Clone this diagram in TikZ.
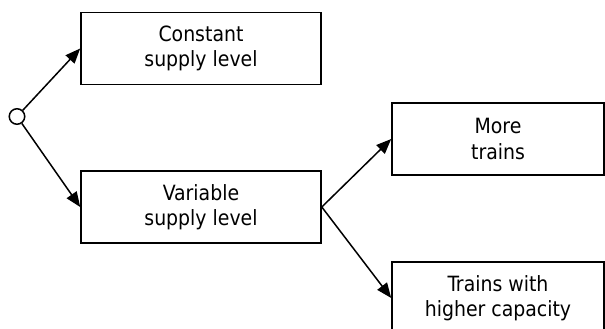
\documentclass[tikz,border=0pt]{standalone}
\usepackage{fontspec}
\setmainfont{DejaVu Sans Condensed}
\usetikzlibrary{arrows.meta}
\begin{document}
\begin{tikzpicture}[x=1pt,y=-1pt,
  box/.style={draw,line width=1.6pt,rectangle,minimum width=240pt,minimum height=72pt,inner sep=0pt,align=center,font=\fontsize{21pt}{25.5pt}\selectfont},
  conn/.style={line width=1.5pt,-{Triangle[length=15pt,width=12pt]}}]
\useasboundingbox (0,0) rectangle (605,329);
\node[draw,circle,line width=1.5pt,minimum size=15.5pt,inner sep=0pt] (c) at (17,116.5) {};
\node[box] (b1) at (201,48.5) {Constant\\supply level};
\node[box] (b2) at (201,207) {Variable\\supply level};
\node[box,minimum width=212pt] (b3) at (498,139) {More\\trains};
\node[box,minimum width=212pt] (b4) at (498,298) {Trains with\\higher capacity};
\draw[conn] (c) -- (b1.west);
\draw[conn] (c) -- (b2.west);
\draw[conn] (b2.east) -- (b3.west);
\draw[conn] (b2.east) -- (b4.west);
\end{tikzpicture}
\end{document}
